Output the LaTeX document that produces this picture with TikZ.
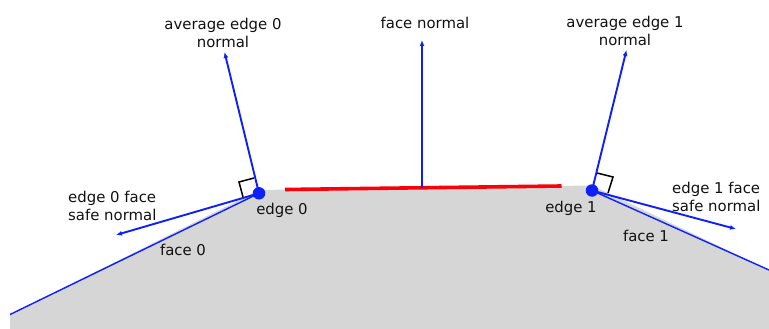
\documentclass[tikz,border=0pt]{standalone}
\usepackage{fontspec}
\setmainfont{DejaVu Sans}
\usetikzlibrary{positioning,arrows.meta}
\definecolor{normalblue}{HTML}{0F1FFA}
\definecolor{edgered}{HTML}{FA0008}
\definecolor{facegrey}{HTML}{D6D6D6}
\definecolor{ink}{HTML}{111111}
\tikzset{
  lbl/.style={font=\fontsize{14.9}{18.5}\selectfont,text=ink,align=center,inner sep=0pt},
  lblleft/.style={lbl,align=left},
  vertex/.style={circle,fill=normalblue,inner sep=0pt,minimum size=12.5pt},
  normalarrow/.style={-{Latex[length=6pt,width=5pt]},draw=normalblue,line width=1.9pt},
  faceline/.style={draw=normalblue,line width=1.4pt},
  squaremark/.style={draw=black,line width=1.5pt}}
\begin{document}
\begin{tikzpicture}[x=1pt,y=-1pt]
  \useasboundingbox (0,0) rectangle (769,329);
  \fill[facegrey] (10,329)--(10,314.5)--(259,190)--(592,185.5)--(769,270)--(769,329)--cycle;
  % geometry
  \coordinate (facestart) at (10,314.5);
  \coordinate (faceend) at (769,270);
  \coordinate (redstart) at (285,189.5);
  \coordinate (redend) at (561.5,186);
  \coordinate (midface) at (422,187.7);
  \coordinate (facetip) at (422,40);
  \coordinate (avg0tip) at (224.5,52);
  \coordinate (avg1tip) at (626.5,50);
  \coordinate (safe0tip) at (116,235);
  \coordinate (safe1tip) at (736,229);
  \node[vertex] (edge0) at (259,193.3) {};
  \node[vertex] (edge1) at (592,190.5) {};
  % faces
  \draw[faceline] (facestart)--(edge0.center);
  \draw[faceline] (edge1.center)--(faceend);
  \draw[draw=edgered,line width=3.6pt] (redstart)--(redend);
  % right angle marks
  \draw[squaremark] (254,178)--(239,182)--(243,197);
  \draw[squaremark] (597,173)--(613,177)--(608,193);
  % normals
  \draw[normalarrow] (midface)--(facetip);
  \draw[normalarrow] (edge0.center)--(avg0tip);
  \draw[normalarrow] (edge1.center)--(avg1tip);
  \draw[normalarrow] (edge0.center)--(safe0tip);
  \draw[normalarrow] (edge1.center)--(safe1tip);
  % labels
  \node[lbl] (avg0lbl) at (223,33) {average edge 0\\normal};
  \node[lbl] (facelbl) at (425,23) {face normal};
  \node[lbl] (avg1lbl) at (625,31) {average edge 1\\normal};
  \node[lblleft,anchor=west] (safe0lbl) at (68,206) {edge 0 face\\safe normal};
  \node[lblleft,anchor=west] (safe1lbl) at (672,197) {edge 1 face\\safe normal};
  \node[lbl] (edge0lbl) at (282,210) {edge 0};
  \node[lbl] (edge1lbl) at (571,208) {edge 1};
  \node[lbl] (face0lbl) at (183,250) {face 0};
  \node[lbl] (face1lbl) at (646,236) {face 1};
\end{tikzpicture}
\end{document}
